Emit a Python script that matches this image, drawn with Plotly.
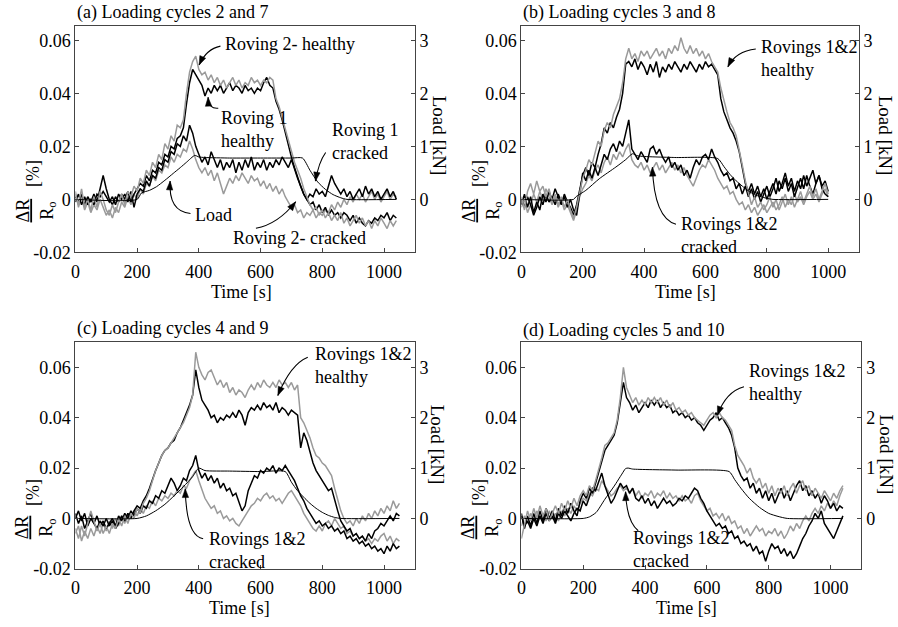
import plotly.graph_objects as go
import math

# ---------------- DATA ----------------
T_A = list(range(0, 1041, 10))
A_H2_GRAY = [0.002,-0.002,0.004,-0.003,0.000,-0.004,0.001,-0.003,0.003,0.000,-0.004,-0.006,-0.002,-0.005,-0.001,0.002,-0.002,0.003,0.001,0.005,
             0.003,0.008,0.006,0.011,0.009,0.014,0.012,0.017,0.015,0.021,0.019,0.024,0.022,0.028,0.027,0.030,0.040,0.048,0.052,0.054,
             0.049,0.047,0.048,0.045,0.047,0.044,0.046,0.043,0.045,0.042,0.044,0.046,0.043,0.045,0.042,0.044,0.043,0.046,0.044,0.045,
             0.043,0.045,0.044,0.046,0.045,0.038,0.035,0.031,0.026,0.022,0.018,0.014,0.011,0.008,0.004,0.001,-0.002,-0.004,-0.003,-0.006,
             -0.004,-0.007,-0.005,-0.008,-0.006,-0.008,-0.005,-0.009,-0.007,-0.010,-0.008,-0.006,-0.009,-0.007,-0.010,-0.008,-0.011,-0.008,-0.010,-0.007,
             -0.009,-0.011,-0.008,-0.010,-0.008]
A_H1_BLACK = [0.001,-0.001,0.002,-0.002,0.001,-0.001,0.002,-0.001,0.004,0.009,0.004,0.000,-0.002,0.001,-0.001,0.002,0.000,0.003,-0.001,0.002,
              0.004,0.006,0.005,0.009,0.007,0.011,0.010,0.014,0.013,0.017,0.016,0.020,0.019,0.023,0.024,0.027,0.036,0.044,0.049,0.047,
              0.045,0.043,0.039,0.042,0.040,0.043,0.041,0.043,0.040,0.042,0.044,0.041,0.043,0.042,0.040,0.043,0.041,0.042,0.040,0.042,
              0.041,0.044,0.046,0.043,0.042,0.037,0.034,0.030,0.025,0.020,0.016,0.012,0.008,0.005,0.002,0.000,-0.002,-0.001,-0.004,-0.002,
              -0.005,-0.003,-0.006,-0.004,-0.006,-0.005,-0.007,-0.005,-0.006,-0.008,-0.006,-0.009,-0.007,-0.009,-0.010,-0.008,-0.009,-0.007,-0.008,-0.006,
              -0.007,-0.005,-0.008,-0.006,-0.007]
A_C1_BLACK = [-0.001,0.002,-0.002,0.001,-0.002,0.000,-0.002,0.002,0.001,0.003,0.001,-0.001,0.001,-0.002,0.002,0.000,0.002,-0.001,0.003,-0.003,
              0.002,0.004,0.003,0.007,0.005,0.009,0.008,0.012,0.011,0.015,0.014,0.018,0.017,0.021,0.020,0.024,0.022,0.028,0.025,0.020,
              0.017,0.014,0.016,0.013,0.018,0.015,0.012,0.015,0.011,0.014,0.012,0.015,0.010,0.014,0.011,0.015,0.012,0.016,0.011,0.014,
              0.012,0.015,0.011,0.014,0.012,0.015,0.013,0.016,0.014,0.012,0.015,0.011,0.008,0.005,0.002,0.000,0.002,0.001,0.004,0.002,
              0.003,0.001,0.005,0.009,0.006,0.004,0.002,0.004,0.001,0.003,0.000,0.002,0.004,0.001,0.005,0.002,0.004,0.001,0.003,0.000,
              0.002,0.004,0.001,0.003,0.000]
A_C2_GRAY = [0.003,-0.003,0.001,-0.004,-0.001,-0.005,-0.002,-0.004,0.000,-0.003,-0.006,-0.004,-0.007,-0.003,-0.005,-0.001,-0.003,0.001,-0.002,0.002,
             0.000,0.004,0.002,0.006,0.005,0.009,0.007,0.011,0.010,0.013,0.012,0.016,0.014,0.017,0.016,0.019,0.018,0.022,0.019,0.015,
             0.012,0.010,0.012,0.009,0.011,0.007,0.010,0.006,0.002,0.005,0.008,0.006,0.009,0.007,0.010,0.008,0.006,0.009,0.007,0.008,
             0.005,0.007,0.004,0.006,0.003,0.005,0.002,0.004,0.001,-0.001,-0.003,-0.002,-0.005,-0.004,-0.007,-0.005,-0.006,-0.004,-0.007,-0.005,
             -0.006,-0.004,-0.005,-0.002,-0.004,-0.001,-0.003,0.000,-0.002,0.001,-0.001,0.002,0.000,0.002,-0.001,0.001,0.003,0.000,0.002,-0.001,
             0.001,0.003,0.000,0.002,0.001]
LOAD_A_T = [0, 200, 214, 240, 263, 290, 317, 340, 360, 387, 400, 420, 500, 600, 700, 736, 760, 785, 810, 835, 860, 880, 1040]
LOAD_A_KN = [0, 0, 0.12, 0.17, 0.24, 0.36, 0.49, 0.60, 0.70, 0.83, 0.80, 0.79, 0.78, 0.78, 0.78, 0.78, 0.55, 0.33, 0.19, 0.09, 0.03, 0.0, 0.0]

T_B = list(range(0, 1001, 10))
B_H_BLACK = [-0.002,0.002,-0.003,0.001,-0.005,-0.001,-0.004,0.002,-0.001,0.003,0.000,0.004,0.001,-0.002,0.002,-0.001,-0.003,-0.006,-0.002,0.004,
             0.009,0.012,0.009,0.014,0.012,0.017,0.021,0.027,0.025,0.029,0.027,0.031,0.034,0.040,0.051,0.052,0.050,0.053,0.049,0.052,
             0.050,0.047,0.051,0.048,0.052,0.046,0.050,0.048,0.051,0.049,0.052,0.050,0.048,0.051,0.049,0.052,0.050,0.048,0.051,0.049,
             0.052,0.050,0.051,0.049,0.047,0.038,0.033,0.030,0.027,0.025,0.022,0.018,0.012,0.006,0.003,0.006,0.002,0.005,0.001,0.004,
             0.000,0.003,0.006,0.002,0.007,0.004,0.008,0.003,0.006,0.001,0.005,0.008,0.004,0.009,0.005,0.002,0.006,0.009,0.004,0.002,
             0.001]
B_H_GRAY = [0.001,-0.004,0.003,0.006,0.002,0.007,0.003,0.005,0.001,0.004,-0.001,0.002,-0.002,0.001,-0.003,0.000,-0.004,-0.007,-0.003,0.002,
            0.008,0.011,0.015,0.013,0.018,0.022,0.020,0.026,0.029,0.027,0.032,0.035,0.038,0.044,0.053,0.057,0.053,0.055,0.052,0.056,
            0.054,0.056,0.053,0.055,0.057,0.054,0.056,0.053,0.057,0.055,0.058,0.056,0.061,0.057,0.055,0.058,0.055,0.057,0.054,0.056,
            0.053,0.055,0.052,0.050,0.048,0.042,0.037,0.033,0.029,0.027,0.024,0.019,0.013,0.007,0.002,-0.002,0.001,-0.003,-0.001,-0.004,
            -0.002,0.001,-0.003,0.000,-0.004,-0.001,0.002,-0.002,0.001,-0.003,0.000,0.003,-0.001,0.002,0.005,0.001,0.004,0.000,0.003,0.006,
            0.002]
B_C_BLACK = [0.000,-0.003,0.001,-0.002,-0.006,-0.003,0.001,-0.002,0.002,-0.001,0.001,-0.002,0.002,-0.001,0.001,-0.003,0.000,-0.004,-0.006,0.003,
             0.010,0.007,0.011,0.008,0.012,0.009,0.013,0.017,0.015,0.019,0.021,0.018,0.022,0.020,0.025,0.030,0.019,0.017,0.015,0.018,
             0.016,0.014,0.019,0.020,0.017,0.019,0.016,0.014,0.016,0.012,0.014,0.011,0.013,0.009,0.011,0.008,0.012,0.015,0.013,0.016,
             0.017,0.015,0.019,0.016,0.014,0.011,0.009,0.010,0.007,0.008,0.004,0.006,0.002,0.005,0.001,0.004,0.000,0.003,-0.001,0.002,
             0.005,0.001,0.004,0.008,0.003,0.006,0.010,0.005,0.008,0.003,0.007,0.004,0.009,0.005,0.008,0.011,0.006,0.009,0.005,0.007,
             0.003]
B_C_GRAY = [-0.003,0.000,-0.005,-0.002,0.002,-0.001,0.003,0.000,0.004,0.001,-0.002,0.001,-0.003,0.000,-0.004,-0.002,-0.005,-0.008,-0.004,0.001,
            0.004,0.006,0.009,0.007,0.011,0.013,0.010,0.014,0.016,0.013,0.017,0.015,0.018,0.016,0.019,0.021,0.015,0.013,0.012,0.014,
            0.011,0.013,0.010,0.012,0.014,0.011,0.013,0.010,0.012,0.014,0.011,0.013,0.010,0.012,0.009,0.007,0.005,0.008,0.011,0.013,
            0.012,0.015,0.013,0.011,0.008,0.006,0.004,0.005,0.002,0.003,0.000,-0.002,-0.001,-0.004,-0.002,-0.005,-0.003,-0.006,-0.004,-0.002,
            -0.005,-0.003,-0.001,-0.004,-0.002,0.001,-0.003,0.000,-0.002,0.002,-0.001,0.001,-0.002,0.001,0.003,0.000,0.002,-0.001,0.002,0.004,
            0.001]
LOAD_B_T = [0, 170, 178, 210, 254, 308, 340, 362, 380, 500, 640, 660, 680, 700, 720, 740, 760, 780, 800, 820, 1000]
LOAD_B_KN = [0, 0, 0.05, 0.17, 0.39, 0.61, 0.75, 0.86, 0.82, 0.79, 0.77, 0.62, 0.47, 0.35, 0.25, 0.16, 0.09, 0.05, 0.02, 0.0, 0.0]

T_C = list(range(0, 1051, 10))
C_H_GRAY = [-0.004,-0.008,-0.003,-0.007,-0.002,0.003,-0.001,-0.005,-0.002,-0.006,-0.003,-0.006,-0.002,-0.004,0.000,-0.003,0.001,-0.002,0.002,0.000,
            0.004,0.002,0.006,0.008,0.011,0.015,0.019,0.022,0.025,0.027,0.028,0.030,0.032,0.034,0.036,0.038,0.041,0.044,0.049,0.066,
            0.060,0.057,0.055,0.058,0.059,0.056,0.053,0.055,0.052,0.054,0.050,0.052,0.049,0.051,0.050,0.048,0.051,0.053,0.051,0.054,
            0.052,0.055,0.053,0.052,0.054,0.052,0.055,0.053,0.054,0.052,0.054,0.051,0.053,0.040,0.038,0.035,0.032,0.028,0.025,0.024,
            0.022,0.021,0.019,0.017,0.012,0.007,0.003,0.000,-0.002,-0.001,-0.003,0.000,-0.002,0.001,-0.001,0.002,0.000,0.003,0.001,0.004,
            0.002,0.005,0.003,0.007,0.004,0.006]
C_H_BLACK = [0.002,-0.002,0.001,-0.004,-0.001,0.002,-0.002,-0.004,-0.001,-0.003,0.000,-0.003,-0.001,-0.004,-0.002,0.001,-0.001,0.002,0.000,0.003,
             0.005,0.004,0.007,0.009,0.012,0.016,0.019,0.022,0.025,0.027,0.028,0.030,0.031,0.034,0.036,0.039,0.042,0.045,0.049,0.059,
             0.052,0.047,0.045,0.043,0.040,0.041,0.038,0.040,0.039,0.041,0.040,0.042,0.040,0.043,0.041,0.037,0.042,0.044,0.043,0.045,
             0.043,0.046,0.044,0.045,0.043,0.046,0.042,0.044,0.043,0.041,0.043,0.042,0.041,0.028,0.034,0.031,0.026,0.022,0.019,0.017,
             0.015,0.013,0.011,0.012,0.007,0.003,-0.001,-0.003,-0.005,-0.004,-0.007,-0.006,-0.008,-0.007,-0.009,-0.006,-0.008,-0.005,-0.004,-0.002,
             -0.003,-0.001,0.001,-0.001,0.002,0.001]
C_C_BLACK = [0.000,0.003,-0.001,0.002,-0.003,0.000,-0.002,0.001,-0.003,-0.001,-0.004,-0.002,0.000,-0.003,0.001,-0.001,0.002,0.000,0.003,0.001,
             0.004,0.002,0.005,0.004,0.007,0.006,0.009,0.008,0.011,0.010,0.013,0.016,0.014,0.011,0.013,0.016,0.015,0.019,0.021,0.025,
             0.019,0.016,0.018,0.015,0.017,0.014,0.016,0.012,0.014,0.011,0.012,0.009,0.010,0.006,0.003,0.005,0.011,0.014,0.017,0.016,
             0.019,0.018,0.020,0.019,0.021,0.018,0.020,0.019,0.021,0.019,0.017,0.015,0.012,0.009,0.007,0.004,0.002,0.000,-0.002,-0.001,
             -0.003,-0.002,-0.004,-0.003,-0.005,-0.004,-0.006,-0.005,-0.008,-0.007,-0.009,-0.008,-0.010,-0.009,-0.011,-0.010,-0.012,-0.011,-0.013,-0.012,
             -0.014,-0.011,-0.013,-0.010,-0.012,-0.011]
C_C_GRAY = [-0.006,-0.003,-0.009,-0.005,-0.008,-0.004,-0.007,-0.003,-0.006,-0.002,-0.005,-0.001,-0.004,0.000,-0.003,0.001,-0.002,0.002,0.000,0.003,
            0.001,0.004,0.002,0.005,0.004,0.007,0.005,0.008,0.007,0.009,0.008,0.010,0.009,0.011,0.010,0.013,0.012,0.015,0.017,0.019,
            0.015,0.011,0.008,0.006,0.004,0.005,0.002,0.003,0.000,0.001,-0.001,0.000,-0.002,-0.003,-0.001,0.001,0.003,0.005,0.006,0.008,
            0.007,0.009,0.010,0.008,0.009,0.007,0.008,0.006,0.008,0.010,0.011,0.009,0.007,0.005,0.002,0.000,-0.002,-0.004,-0.005,-0.003,
            -0.005,-0.002,-0.001,-0.003,0.000,-0.002,-0.004,-0.003,-0.006,-0.005,-0.007,-0.006,-0.008,-0.007,-0.009,-0.008,-0.010,-0.008,-0.009,-0.007,
            -0.006,-0.009,-0.007,-0.010,-0.008,-0.009]
LOAD_C_T = [0, 200, 230, 260, 290, 320, 350, 380, 400, 420, 500, 600, 680, 700, 720, 740, 760, 780, 800, 820, 840, 860, 1050]
LOAD_C_KN = [0, 0, 0.05, 0.15, 0.28, 0.45, 0.63, 0.83, 1.0, 0.95, 0.94, 0.93, 0.93, 0.72, 0.55, 0.42, 0.30, 0.20, 0.12, 0.06, 0.02, 0.0, 0.0]

T_D = list(range(0, 1041, 10))
D_H_BLACK = [0.002,-0.004,0.001,-0.003,0.002,-0.002,0.003,-0.001,0.004,0.000,0.003,-0.001,0.004,0.001,0.005,0.002,0.006,0.003,0.001,0.007,
             0.010,0.008,0.012,0.010,0.014,0.018,0.022,0.027,0.029,0.031,0.033,0.038,0.046,0.054,0.048,0.046,0.043,0.045,0.042,0.044,
             0.046,0.044,0.047,0.045,0.047,0.044,0.046,0.044,0.045,0.042,0.043,0.041,0.042,0.040,0.041,0.039,0.040,0.038,0.037,0.035,
             0.037,0.039,0.040,0.042,0.039,0.040,0.038,0.036,0.033,0.028,0.020,0.017,0.015,0.016,0.012,0.014,0.010,0.012,0.008,0.011,
             0.007,0.010,0.006,0.009,0.012,0.008,0.011,0.007,0.010,0.013,0.015,0.011,0.013,0.009,0.011,0.008,0.010,0.006,0.009,0.007,
             0.004,0.006,0.003,0.005,0.004]
D_H_GRAY = [-0.008,-0.002,0.003,-0.001,0.004,0.000,0.005,0.001,0.004,-0.001,0.002,0.005,0.002,0.006,0.003,0.007,0.004,0.008,0.005,0.009,
            0.011,0.009,0.013,0.011,0.015,0.019,0.024,0.029,0.030,0.032,0.034,0.039,0.048,0.060,0.052,0.049,0.046,0.048,0.045,0.047,
            0.045,0.048,0.046,0.048,0.046,0.048,0.045,0.047,0.044,0.046,0.043,0.044,0.042,0.043,0.041,0.042,0.040,0.039,0.038,0.037,
            0.039,0.041,0.042,0.040,0.042,0.040,0.039,0.037,0.035,0.029,0.025,0.023,0.021,0.018,0.020,0.016,0.014,0.016,0.012,0.014,
            0.010,0.013,0.009,0.012,0.010,0.013,0.009,0.012,0.014,0.010,0.013,0.015,0.011,0.013,0.009,0.012,0.010,0.008,0.011,0.009,
            0.007,0.010,0.008,0.011,0.013]
D_C_BLACK = [0.001,-0.003,-0.001,-0.004,0.000,-0.003,0.001,-0.002,0.002,-0.001,0.001,-0.002,0.002,0.000,0.003,0.001,-0.001,0.002,0.004,0.003,
             0.007,0.005,0.009,0.012,0.011,0.015,0.018,0.013,0.009,0.006,0.008,0.011,0.014,0.012,0.013,0.010,0.012,0.008,0.007,0.009,
             0.006,0.008,0.005,0.007,0.004,0.006,0.008,0.006,0.007,0.005,0.006,0.008,0.007,0.009,0.008,0.010,0.012,0.011,0.008,0.006,
             0.003,0.001,-0.001,-0.003,-0.002,-0.004,-0.003,-0.006,-0.005,-0.008,-0.007,-0.010,-0.009,-0.011,-0.010,-0.013,-0.011,-0.014,-0.013,-0.017,
             -0.013,-0.010,-0.012,-0.011,-0.014,-0.012,-0.015,-0.013,-0.016,-0.014,-0.011,-0.008,-0.006,-0.003,-0.001,0.002,0.000,0.003,-0.002,-0.004,
             -0.006,-0.008,-0.005,-0.002,0.001]
D_C_GRAY = [-0.003,0.001,-0.002,0.002,-0.001,0.003,0.000,0.002,-0.001,0.003,0.000,0.002,-0.001,0.003,0.001,0.004,0.002,0.005,0.003,0.006,
            0.008,0.007,0.010,0.009,0.012,0.011,0.015,0.013,0.011,0.009,0.010,0.012,0.013,0.011,0.012,0.010,0.012,0.009,0.011,0.008,
            0.010,0.009,0.011,0.008,0.010,0.009,0.011,0.008,0.010,0.008,0.009,0.007,0.009,0.007,0.008,0.006,0.009,0.010,0.007,0.005,
            0.003,0.004,0.001,0.002,0.000,0.002,-0.001,0.001,-0.002,-0.001,-0.004,-0.003,-0.006,-0.004,-0.007,-0.005,-0.003,-0.005,-0.004,-0.007,
            -0.005,-0.006,-0.004,-0.007,-0.005,-0.008,-0.006,-0.003,-0.005,-0.002,-0.004,-0.001,0.001,-0.001,0.002,0.004,0.002,0.005,0.003,0.006,
            0.004,0.007,0.005,0.009,0.012]
LOAD_D_T = [0, 200, 220, 242, 270, 300, 325, 337, 345, 360, 500, 672, 690, 710, 737, 770, 800, 830, 860, 1040]
LOAD_D_KN = [0, 0, 0.03, 0.12, 0.38, 0.64, 0.88, 0.99, 1.0, 0.98, 0.96, 0.93, 0.77, 0.60, 0.40, 0.22, 0.10, 0.04, 0.0, 0.0]

X_TICKS = [0, 200, 400, 600, 800, 1000]
Y_TICKS = [-0.02, 0, 0.02, 0.04, 0.06]
Y_TICK_TEXT = ['-0.02', '0', '0.02', '0.04', '0.06']
LOAD_TICKS = [0, 1, 2, 3]

# ---------------- LAYOUT CONFIG ----------------
W, H = 898, 627
FONT = 'Liberation Serif, Times New Roman, Times, serif'
GRAY = '#9a9a9a'
BLACK = '#000000'
AXC = '#444444'

def px(x):
    return x / W

def py(y):
    return (H - y) / H

panels = [
    dict(title='(a) Loading cycles 2 and 7', t=T_A,
         series=[(A_C2_GRAY, GRAY), (A_C1_BLACK, BLACK), (A_H1_BLACK, BLACK), (A_H2_GRAY, GRAY)],
         lt=LOAD_A_T, lv=LOAD_A_KN,
         xd=[px(71.7), px(412.7)], yd=[py(256.5), py(26.7)], yr=[-0.02, 0.0653],
         title_pos=(71.7, 13), time_pos=(239, 296.5), load_pos=(437, 138), frac_y=214, pct_y=176, xoff=0,
         notes=[('Roving 2- healthy', 478, 0.0585, (470, 0.0578), (424, 0.0567), (401, 0.0507)),
                ('Roving 1<br>healthy', 465, 0.0262, (463, 0.0344), (432, 0.0340), (430, 0.0385)),
                ('Roving 1<br>cracked', 824, 0.0218, (811, 0.0177), (788, 0.0140), (778, 0.0069)),
                ('Load', 382, -0.0060, (373, -0.0053), (301, -0.0046), (307, 0.0069)),
                ('Roving 2- cracked', 505, -0.0144, (585, -0.0109), (656, -0.0094), (714, -0.0009))]),
    dict(title='(b) Loading cycles 3 and 8', t=T_B,
         series=[(B_C_GRAY, GRAY), (B_C_BLACK, BLACK), (B_H_BLACK, BLACK), (B_H_GRAY, GRAY)],
         lt=LOAD_B_T, lv=LOAD_B_KN,
         xd=[px(519.7), px(858.7)], yd=[py(256.5), py(26.7)], yr=[-0.02, 0.0653],
         title_pos=(519.7, 13), time_pos=(685, 296.5), load_pos=(885, 138), frac_y=214, pct_y=176, xoff=448,
         notes=[('Rovings 1&2<br>healthy', 774, 0.0530, (764, 0.0567), (699, 0.0559), (673, 0.0500)),
                ('Rovings 1&2<br>cracked', 514, -0.0138, (504, -0.0094), (433, -0.0072), (427, 0.0121))]),
    dict(title='(c) Loading cycles 4 and 9', t=T_C,
         series=[(C_C_GRAY, GRAY), (C_C_BLACK, BLACK), (C_H_BLACK, BLACK), (C_H_GRAY, GRAY)],
         lt=LOAD_C_T, lv=LOAD_C_KN,
         xd=[px(71.7), px(412.7)], yd=[py(578), py(347.7)], yr=[-0.02, 0.07],
         title_pos=(71.7, 334), time_pos=(237, 618), load_pos=(435, 452), frac_y=536, pct_y=500, xoff=0,
         notes=[('Rovings 1&2<br>healthy', 769, 0.0606, (753, 0.0640), (698, 0.0613), (656, 0.0488)),
                ('Rovings 1&2<br>cracked', 427, -0.0127, (414, -0.0081), (359, -0.0069), (356, 0.0118))]),
    dict(title='(d) Loading cycles 5 and 10', t=T_D,
         series=[(D_C_GRAY, GRAY), (D_C_BLACK, BLACK), (D_H_BLACK, BLACK), (D_H_GRAY, GRAY)],
         lt=LOAD_D_T, lv=LOAD_D_KN,
         xd=[px(519.7), px(861.3)], yd=[py(578), py(347.7)], yr=[-0.02, 0.07],
         title_pos=(519.7, 336), time_pos=(686, 618), load_pos=(886, 462), frac_y=536, pct_y=500, xoff=448,
         notes=[('Rovings 1&2<br>healthy', 730, 0.0540, (720, 0.0523), (662, 0.0504), (634, 0.0410)),
                ('Rovings 1&2<br>cracked', 356, -0.0122, (378, -0.0049), (340, -0.0011), (337, 0.0106))]),
]

fig = go.Figure()
shapes = []
annotations = []
XR = [0, 1100]
tfont = dict(family=FONT, size=18, color='black')

for i, p in enumerate(panels):
    n = i + 1
    xa = 'x' if n == 1 else f'x{n}'
    ya = 'y' if n == 1 else f'y{2*n-1}'
    ya2 = f'y{2*n}'
    xkey = 'xaxis' if n == 1 else f'xaxis{n}'
    ykey = 'yaxis' if n == 1 else f'yaxis{2*n-1}'
    y2key = f'yaxis{2*n}'
    for vals, col in p['series']:
        fig.add_trace(go.Scatter(x=p['t'], y=vals, mode='lines', xaxis=xa, yaxis=ya,
                                 line=dict(color=col, width=1.5), hoverinfo='skip'))
    fig.add_trace(go.Scatter(x=p['lt'], y=p['lv'], mode='lines', xaxis=xa, yaxis=ya2,
                             line=dict(color='black', width=1.0, shape='spline', smoothing=0.6), hoverinfo='skip'))
    yr2 = [p['yr'][0] * 50, p['yr'][1] * 50]
    fig.update_layout(**{
        xkey: dict(domain=p['xd'], range=XR, anchor=ya, tickvals=X_TICKS, ticks='inside', ticklen=4,
                   tickcolor=AXC, showline=True, linecolor=AXC, linewidth=1.2, mirror=True,
                   showgrid=False, zeroline=False, tickfont=tfont, ticklabelstandoff=3),
        ykey: dict(domain=p['yd'], range=p['yr'], anchor=xa, tickvals=Y_TICKS, ticktext=Y_TICK_TEXT,
                   ticks='inside', ticklen=4, tickcolor=AXC, showline=True, linecolor=AXC, linewidth=1.2,
                   showgrid=False, zeroline=False, tickfont=tfont),
        y2key: dict(domain=p['yd'], range=yr2, overlaying=ya, side='right', anchor=xa, tickvals=LOAD_TICKS,
                    ticks='inside', ticklen=4, tickcolor=AXC, showline=True, linecolor=AXC, linewidth=1.2,
                    showgrid=False, zeroline=False, tickfont=tfont),
    })
    sx = (p['xd'][1] - p['xd'][0]) * W / (XR[1] - XR[0])
    sy = (p['yd'][1] - p['yd'][0]) * H / (p['yr'][1] - p['yr'][0])
    for text, tx, ty, s0, c0, tip in p['notes']:
        annotations.append(dict(text=text, x=tx, y=ty, xref=xa, yref=ya, xanchor='left', yanchor='middle',
                                align='left', showarrow=False, font=tfont))
        shapes.append(dict(type='path', xref=xa, yref=ya,
                           path=f'M {s0[0]},{s0[1]} Q {c0[0]},{c0[1]} {tip[0]},{tip[1]}',
                           line=dict(color='black', width=1.1)))
        ux = (c0[0] - tip[0]) * sx
        uy = (c0[1] - tip[1]) * sy
        nrm = math.hypot(ux, uy) or 1
        ux, uy = ux / nrm, uy / nrm
        L, hw = 9, 3.2
        bx, by = ux * L, uy * L
        c1 = (tip[0] + (bx - uy * hw) / sx, tip[1] + (by + ux * hw) / sy)
        c2 = (tip[0] + (bx + uy * hw) / sx, tip[1] + (by - ux * hw) / sy)
        shapes.append(dict(type='path', xref=xa, yref=ya,
                           path=f'M {tip[0]},{tip[1]} L {c1[0]},{c1[1]} L {c2[0]},{c2[1]} Z',
                           fillcolor='black', line=dict(color='black', width=0.5)))
    annotations.append(dict(text=p['title'], x=px(p['title_pos'][0]), y=py(p['title_pos'][1]), xref='paper',
                            yref='paper', xanchor='left', yanchor='middle', showarrow=False, font=tfont))
    annotations.append(dict(text='Time [s]', x=px(p['time_pos'][0]), y=py(p['time_pos'][1]), xref='paper',
                            yref='paper', xanchor='center', yanchor='middle', showarrow=False, borderpad=0,
                            font=tfont))
    annotations.append(dict(text='Load [kN]', x=px(p['load_pos'][0]), y=py(p['load_pos'][1]), xref='paper',
                            yref='paper', xanchor='center', yanchor='middle', showarrow=False, textangle=90,
                            borderpad=0, font=dict(family=FONT, size=19, color='black')))
    xo = p['xoff']
    annotations.append(dict(text='<u>ΔR</u><br>R<sub>o</sub>', x=px(32 + xo), y=py(p['frac_y']), xref='paper',
                            yref='paper', xanchor='center', yanchor='middle', showarrow=False, textangle=-90,
                            borderpad=0, font=tfont))
    annotations.append(dict(text='[%]', x=px(29 + xo), y=py(p['pct_y']), xref='paper', yref='paper',
                            xanchor='center', yanchor='middle', showarrow=False, textangle=-90, font=tfont))

fig.update_layout(width=W, height=H, margin=dict(l=0, r=0, t=0, b=0), showlegend=False,
                  paper_bgcolor='white', plot_bgcolor='white', font=tfont,
                  shapes=shapes, annotations=annotations)
fig.write_html('out.html', config={'displayModeBar': False},
               post_script="document.body.style.margin='0px';")
